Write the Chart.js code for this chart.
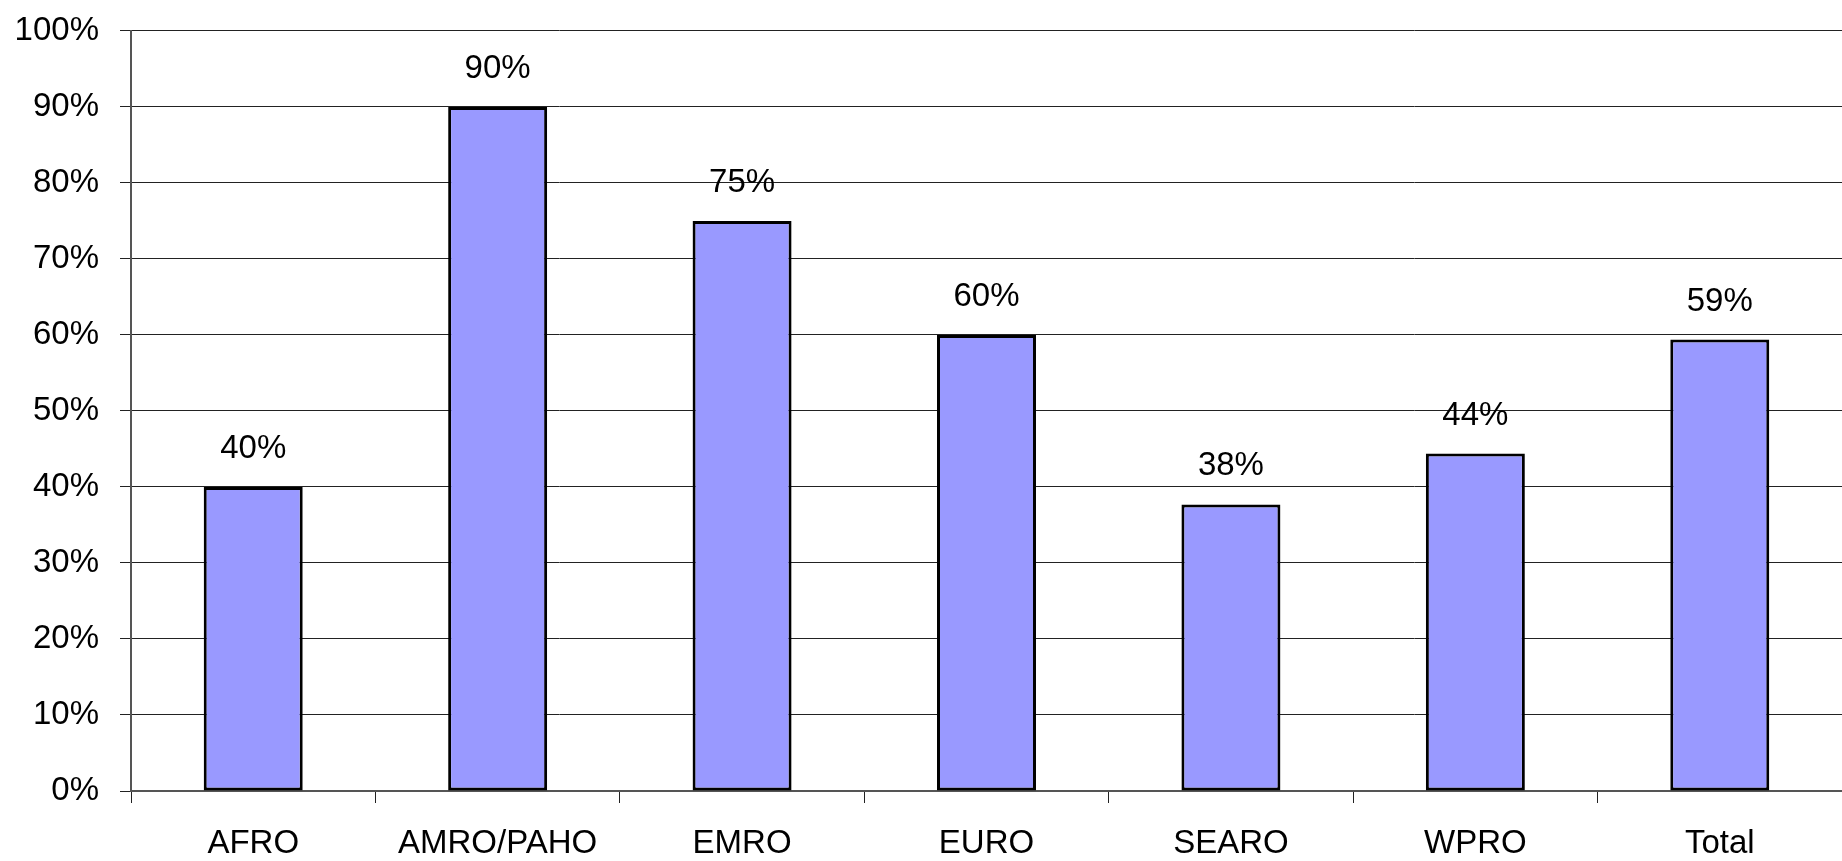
<!DOCTYPE html>
<html>
<head>
<meta charset="utf-8">
<script src="https://cdn.jsdelivr.net/npm/chart.js@4/dist/chart.umd.min.js"></script>
<style>
  html, body { margin: 0; padding: 0; background: #fff; }
  canvas { display: block; }
</style>
</head>
<body>
<canvas id="c" width="1842" height="861"></canvas>
<script>
const categories = ['AFRO', 'AMRO/PAHO', 'EMRO', 'EURO', 'SEARO', 'WPRO', 'Total'];
const values = [40, 90, 75, 60, 37.7, 44.4, 59.4];
const yTickLabels = ['0%', '10%', '20%', '30%', '40%', '50%', '60%', '70%', '80%', '90%', '100%'];

const FONT = "'Liberation Sans', Arial, sans-serif";

const valueLabels = {
  id: 'valueLabels',
  afterDatasetsDraw(chart) {
    const ctx = chart.ctx;
    const meta = chart.getDatasetMeta(0);
    ctx.save();
    ctx.font = '33px ' + FONT;
    ctx.fillStyle = '#000';
    ctx.textAlign = 'center';
    ctx.textBaseline = 'alphabetic';
    meta.data.forEach((bar, i) => {
      ctx.fillText(Math.round(values[i]) + '%', bar.x, bar.y - 29);
    });
    ctx.restore();
  }
};

new Chart(document.getElementById('c'), {
  type: 'bar',
  data: {
    labels: categories,
    datasets: [{
      data: values,
      backgroundColor: '#9999FF',
      borderColor: '#000',
      borderWidth: 3,
      borderSkipped: false,
      barPercentage: 0.405,
      categoryPercentage: 1
    }]
  },
  options: {
    responsive: false,
    animation: false,
    devicePixelRatio: 1,
    layout: { padding: { top: 27, right: 0, left: 0, bottom: 0 } },
    plugins: { legend: { display: false }, tooltip: { enabled: false } },
    scales: {
      x: {
        grid: { offset: true, drawOnChartArea: false, drawTicks: true, tickLength: 12, color: '#222', lineWidth: 1 },
        border: { display: true, color: '#555', width: 2 },
        ticks: { font: { family: FONT, size: 33 }, color: '#000', padding: 21, maxRotation: 0, autoSkip: false },
        afterFit: s => { s.height = 70; }
      },
      y: {
        min: 0, max: 100,
        grid: { color: '#222', lineWidth: 1, tickLength: 11 },
        border: { display: true, color: '#555', width: 2 },
        ticks: {
          stepSize: 10,
          font: { family: FONT, size: 33, lineHeight: 0.6 },
          color: '#000',
          padding: 21,
          callback: (v, i) => yTickLabels[i]
        },
        afterFit: s => { s.width = 131; }
      }
    }
  },
  plugins: [valueLabels]
});
</script>
</body>
</html>
